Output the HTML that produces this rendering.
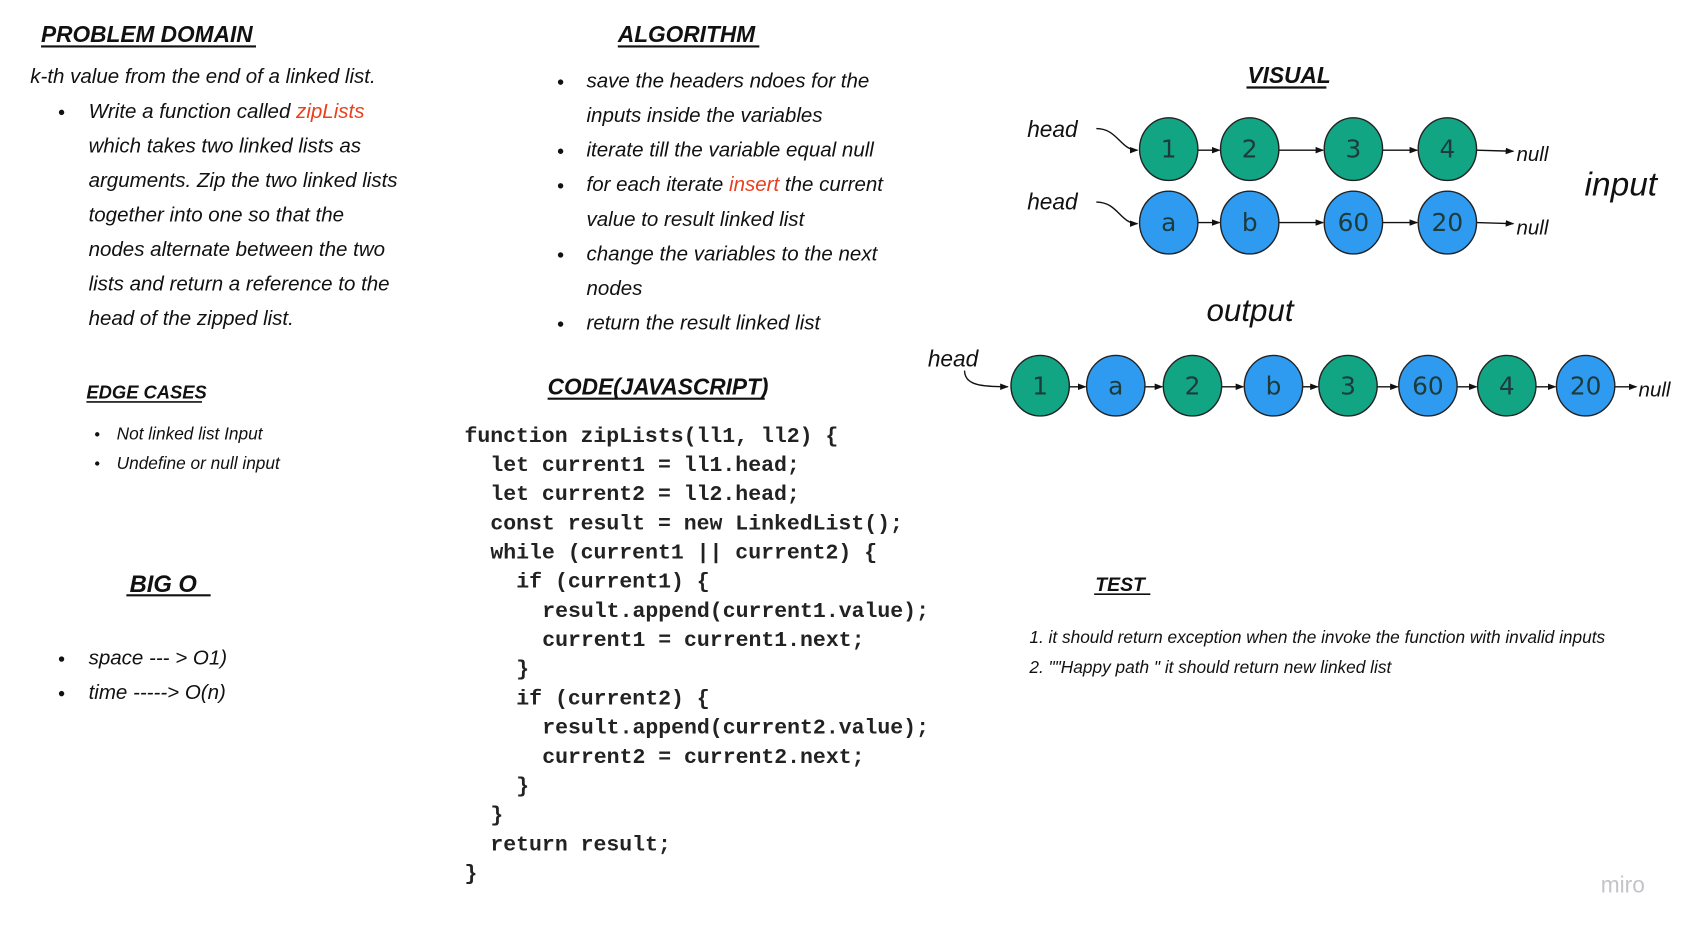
<!DOCTYPE html>
<html><head><meta charset="utf-8"><style>
html,body{margin:0;padding:0;background:#fff;}
svg{display:block;}
.h{font-family:"Liberation Sans Narrow","Liberation Sans",sans-serif;font-weight:bold;font-style:italic;fill:#111;}
.t{font-family:"Liberation Sans Narrow","Liberation Sans",sans-serif;font-style:italic;fill:#111;}
.c{font-family:"Liberation Mono",monospace;font-size:19.9px;fill:#222;font-weight:bold;}
.n{font-family:"DejaVu Sans","Liberation Sans",sans-serif;font-size:23px;fill:#1d3b3b;text-anchor:middle;}
.r{fill:#e8401c;}
</style></head><body>
<svg width="1685" height="927" viewBox="0 0 1560 858" preserveAspectRatio="none" xmlns="http://www.w3.org/2000/svg">
<defs><marker id="a" markerWidth="8" markerHeight="8" refX="7" refY="4" orient="auto" markerUnits="userSpaceOnUse"><path d="M0,1 L8,4 L0,7 z" fill="#111"/></marker></defs>

<!-- Problem domain -->
<text class="h" x="38" y="39" font-size="21">PROBLEM DOMAIN</text>
<line x1="38" y1="43" x2="237" y2="43" stroke="#111" stroke-width="2"/>
<text class="t" x="28" y="77" font-size="19">k-th value from the end of a linked list.</text>
<circle cx="57" cy="104" r="2.5" fill="#111"/>
<g class="t" font-size="19">
<text x="82" y="109">Write a function called <tspan class="r">zipLists</tspan></text>
<text x="82" y="141">which takes two linked lists as</text>
<text x="82" y="173">arguments. Zip the two linked lists</text>
<text x="82" y="205">together into one so that the</text>
<text x="82" y="237">nodes alternate between the two</text>
<text x="82" y="269">lists and return a reference to the</text>
<text x="82" y="301">head of the zipped list.</text>
</g>

<text class="h" x="80" y="369" font-size="17">EDGE CASES</text>
<line x1="80" y1="372" x2="187" y2="372" stroke="#111" stroke-width="1.5"/>
<circle cx="90" cy="402" r="2" fill="#111"/>
<circle cx="90" cy="429" r="2" fill="#111"/>
<text class="t" x="108" y="407" font-size="16">Not linked list Input</text>
<text class="t" x="108" y="434" font-size="16">Undefine or null input</text>

<text class="h" x="120" y="548" font-size="22">BIG O</text>
<line x1="117" y1="551" x2="195" y2="551" stroke="#111" stroke-width="2"/>
<circle cx="57" cy="610" r="2.5" fill="#111"/>
<circle cx="57" cy="642" r="2.5" fill="#111"/>
<text class="t" x="82" y="615" font-size="19">space --- &gt; O1)</text>
<text class="t" x="82" y="647" font-size="19">time -----&gt; O(n)</text>

<!-- Algorithm -->
<text class="h" x="572" y="39" font-size="21">ALGORITHM</text>
<line x1="572" y1="43" x2="703" y2="43" stroke="#111" stroke-width="2"/>
<g fill="#111"><circle cx="519" cy="76" r="2.5"/><circle cx="519" cy="140" r="2.5"/><circle cx="519" cy="172" r="2.5"/><circle cx="519" cy="236" r="2.5"/><circle cx="519" cy="300" r="2.5"/></g>
<g class="t" font-size="19">
<text x="543" y="81">save the headers ndoes for the</text>
<text x="543" y="113">inputs  inside the variables</text>
<text x="543" y="145">iterate till the variable equal null</text>
<text x="543" y="177">for each iterate <tspan class="r">insert</tspan> the current</text>
<text x="543" y="209">value to result linked list</text>
<text x="543" y="241">change the variables to the next</text>
<text x="543" y="273">nodes</text>
<text x="543" y="305">return the result linked list</text>
</g>

<text class="h" x="507" y="365" font-size="21">CODE(JAVASCRIPT)</text>
<line x1="507" y1="369" x2="708" y2="369" stroke="#111" stroke-width="2"/>
<g class="c">
<text x="430" y="409">function zipLists(ll1, ll2) {</text>
<text x="454" y="436">let current1 = ll1.head;</text>
<text x="454" y="463">let current2 = ll2.head;</text>
<text x="454" y="490">const result = new LinkedList();</text>
<text x="454" y="517">while (current1 || current2) {</text>
<text x="478" y="544">if (current1) {</text>
<text x="502" y="571">result.append(current1.value);</text>
<text x="502" y="598">current1 = current1.next;</text>
<text x="478" y="625">}</text>
<text x="478" y="652">if (current2) {</text>
<text x="502" y="679">result.append(current2.value);</text>
<text x="502" y="706">current2 = current2.next;</text>
<text x="478" y="733">}</text>
<text x="454" y="760">}</text>
<text x="454" y="787">return result;</text>
<text x="430" y="814">}</text>
</g>

<g transform="translate(-5,-1)">
<!-- Visual -->
<text class="h" x="1160" y="78" font-size="21">VISUAL</text>
<line x1="1159" y1="82" x2="1233" y2="82" stroke="#111" stroke-width="2"/>
<text class="t" x="956" y="128" font-size="21">head</text>
<text class="t" x="956" y="195" font-size="21">head</text>
<path d="M1020,120 C1040,120 1042,140 1058,140" fill="none" stroke="#111" stroke-width="1.3" marker-end="url(#a)"/>
<path d="M1020,188 C1040,188 1042,208 1058,208" fill="none" stroke="#111" stroke-width="1.3" marker-end="url(#a)"/>
<g stroke="#111" stroke-width="1.3" marker-end="url(#a)">
<line x1="1114" y1="140" x2="1134" y2="140"/><line x1="1189" y1="140" x2="1230" y2="140"/><line x1="1285" y1="140" x2="1317" y2="140"/><line x1="1372" y1="140" x2="1406" y2="141"/>
<line x1="1114" y1="207" x2="1134" y2="207"/><line x1="1189" y1="207" x2="1230" y2="207"/><line x1="1285" y1="207" x2="1317" y2="207"/><line x1="1372" y1="207" x2="1406" y2="208"/>
</g>
<g stroke="#222" stroke-width="1.3">
<ellipse cx="1087" cy="139" rx="27" ry="29" fill="#12a584"/><ellipse cx="1162" cy="139" rx="27" ry="29" fill="#12a584"/><ellipse cx="1258" cy="139" rx="27" ry="29" fill="#12a584"/><ellipse cx="1345" cy="139" rx="27" ry="29" fill="#12a584"/>
<ellipse cx="1087" cy="207" rx="27" ry="29" fill="#2f9bf0"/><ellipse cx="1162" cy="207" rx="27" ry="29" fill="#2f9bf0"/><ellipse cx="1258" cy="207" rx="27" ry="29" fill="#2f9bf0"/><ellipse cx="1345" cy="207" rx="27" ry="29" fill="#2f9bf0"/>
</g>
<g class="n">
<text x="1087" y="147">1</text><text x="1162" y="147">2</text><text x="1258" y="147">3</text><text x="1345" y="147">4</text>
<text x="1087" y="215">a</text><text x="1162" y="215">b</text><text x="1258" y="215">60</text><text x="1345" y="215">20</text>
</g>
<text class="t" x="1409" y="150" font-size="19">null</text>
<text class="t" x="1409" y="218" font-size="19">null</text>
<text class="t" x="1472" y="182" font-size="31">input</text>
<text class="t" x="1122" y="298" font-size="29">output</text>

<text class="t" x="864" y="340" font-size="21">head</text>
<path d="M898,344 C898,358 915,359 938,359" fill="none" stroke="#111" stroke-width="1.3" marker-end="url(#a)"/>
<g stroke="#111" stroke-width="1.3" marker-end="url(#a)">
<line x1="995" y1="359" x2="1010" y2="359"/><line x1="1065" y1="359" x2="1081" y2="359"/><line x1="1136" y1="359" x2="1156" y2="359"/><line x1="1211" y1="359" x2="1225" y2="359"/><line x1="1280" y1="359" x2="1299" y2="359"/><line x1="1354" y1="359" x2="1372" y2="359"/><line x1="1427" y1="359" x2="1445" y2="359"/><line x1="1500" y1="359" x2="1520" y2="359"/>
</g>
<g stroke="#222" stroke-width="1.3">
<ellipse cx="968" cy="358" rx="27" ry="28" fill="#12a584"/><ellipse cx="1038" cy="358" rx="27" ry="28" fill="#2f9bf0"/><ellipse cx="1109" cy="358" rx="27" ry="28" fill="#12a584"/><ellipse cx="1184" cy="358" rx="27" ry="28" fill="#2f9bf0"/><ellipse cx="1253" cy="358" rx="27" ry="28" fill="#12a584"/><ellipse cx="1327" cy="358" rx="27" ry="28" fill="#2f9bf0"/><ellipse cx="1400" cy="358" rx="27" ry="28" fill="#12a584"/><ellipse cx="1473" cy="358" rx="27" ry="28" fill="#2f9bf0"/>
</g>
<g class="n">
<text x="968" y="366">1</text><text x="1038" y="366">a</text><text x="1109" y="366">2</text><text x="1184" y="366">b</text><text x="1253" y="366">3</text><text x="1327" y="366">60</text><text x="1400" y="366">4</text><text x="1473" y="366">20</text>
</g>
<text class="t" x="1522" y="368" font-size="19">null</text>

<!-- Test -->
<text class="h" x="1019" y="548" font-size="18">TEST</text>
<line x1="1018" y1="551" x2="1070" y2="551" stroke="#111" stroke-width="1.5"/>
<text class="t" x="958" y="596" font-size="16">1.  it should return exception when the invoke the function with invalid inputs</text>
<text class="t" x="958" y="624" font-size="16">2.  ""Happy path " it should return new linked list</text>
</g>

<text x="1482" y="826" font-family="Liberation Sans,sans-serif" font-size="21" fill="#c4c4c8">miro</text>
</svg>
</body></html>
